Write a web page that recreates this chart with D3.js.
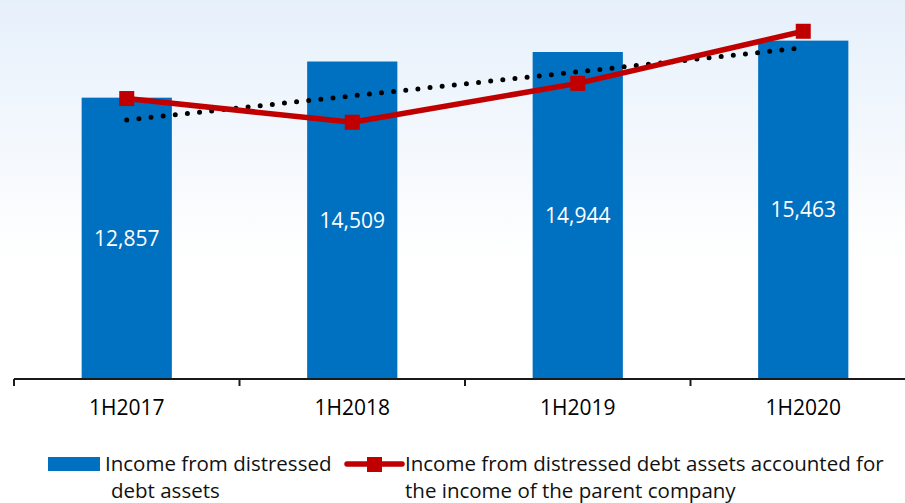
<!DOCTYPE html>
<html>
<head>
<meta charset="utf-8">
<script src="https://cdn.jsdelivr.net/npm/d3@7"></script>
<style>
  html, body { margin: 0; padding: 0; background: #ffffff; }
  svg { display: block; font-family: "Open Sans", "Noto Sans", sans-serif; }
</style>
</head>
<body>
<svg id="chart" width="905" height="503"></svg>
<script>
// Half-year periods
const periods = ["1H2017", "1H2018", "1H2019", "1H2020"];
// Income from distressed debt assets (bars)
const incomeValues = [12857, 14509, 14944, 15463];
// Share of parent-company income accounted for by that income, % (line)
const shareValues = [69.6, 67.1, 71.2, 76.7];
// Legend entries
const legendBar = ["Income from distressed", "debt assets"];
const legendLine = ["Income from distressed debt assets accounted for", "the income of the parent company"];

const svg = d3.select("#chart");
const W = 905, H = 503;
const baseY = 379;

// Soft blue wash behind the plot
const defs = svg.append("defs");
const grad = defs.append("linearGradient")
  .attr("id", "bg").attr("x1", 0).attr("y1", 0).attr("x2", 0).attr("y2", 1);
grad.append("stop").attr("offset", "0%").attr("stop-color", "#e6f0fb");
grad.append("stop").attr("offset", "100%").attr("stop-color", "#ffffff");
svg.append("rect").attr("x", 0).attr("y", 0).attr("width", W).attr("height", 260)
  .attr("fill", "url(#bg)");

const x = d3.scaleBand().domain(periods).range([14, 916])
  .paddingInner(0.6).paddingOuter(0.3);
const y = d3.scaleLinear().domain([0, 17320]).range([baseY, 0]);
const y2 = d3.scaleLinear().domain([40, 80]).range([baseY, 0]);

// Bars
svg.append("g").selectAll("rect").data(periods).join("rect")
  .attr("x", d => x(d))
  .attr("y", (d, i) => y(incomeValues[i]))
  .attr("width", x.bandwidth())
  .attr("height", (d, i) => baseY - y(incomeValues[i]))
  .attr("fill", "#0070c0");

// Value labels inside bars
svg.append("g").selectAll("text").data(periods).join("text")
  .attr("x", d => x(d) + x.bandwidth() / 2)
  .attr("y", (d, i) => (y(incomeValues[i]) + baseY) / 2)
  .attr("dy", "0.36em")
  .attr("text-anchor", "middle")
  .attr("fill", "#ffffff")
  .attr("font-size", 21)
  .text((d, i) => d3.format(",")(incomeValues[i]));

// Linear trend of the share series
const idx = shareValues.map((v, i) => i);
const mx = d3.mean(idx), my = d3.mean(shareValues);
const slope = d3.sum(idx, i => (i - mx) * (shareValues[i] - my)) / d3.sum(idx, i => (i - mx) ** 2);
const icpt = my - slope * mx;
const cx = d => x(d) + x.bandwidth() / 2;
const trend = periods.map((d, i) => [cx(d), y2(icpt + slope * i)]);
svg.append("path")
  .attr("d", d3.line()([trend[0], trend[trend.length - 1]]))
  .attr("fill", "none")
  .attr("stroke", "#000000")
  .attr("stroke-width", 5)
  .attr("stroke-linecap", "round")
  .attr("stroke-dasharray", "0 12.2");

// Share line with square markers
const linePts = periods.map((d, i) => [cx(d), y2(shareValues[i])]);
svg.append("path")
  .attr("d", d3.line()(linePts))
  .attr("fill", "none")
  .attr("stroke", "#c00000")
  .attr("stroke-width", 5.5)
  .attr("stroke-linejoin", "round");
svg.append("g").selectAll("rect").data(linePts).join("rect")
  .attr("x", p => p[0] - 7.5).attr("y", p => p[1] - 7.5)
  .attr("width", 15).attr("height", 15)
  .attr("fill", "#c00000");

// Category axis
const axis = svg.append("g").attr("transform", `translate(0,${baseY})`)
  .call(d3.axisBottom(x).tickSize(0).tickPadding(21));
axis.select(".domain").remove();
axis.selectAll("text").attr("font-size", 21).attr("fill", "#000000")
  .attr("font-family", "\"Open Sans\", sans-serif");
axis.append("line").attr("x1", 14).attr("x2", W).attr("y1", 0).attr("y2", 0)
  .attr("stroke", "#1a1a1a").attr("stroke-width", 2);
const gap = (x.step() - x.bandwidth()) / 2;
const bounds = periods.map(d => x(d) - gap).concat([x(periods[periods.length - 1]) + x.bandwidth() + gap]);
axis.selectAll("line.bound").data(bounds).join("line")
  .attr("class", "bound")
  .attr("x1", b => b).attr("x2", b => b)
  .attr("y1", 0).attr("y2", 7)
  .attr("stroke", "#1a1a1a").attr("stroke-width", 2);

// Legend
const lg = svg.append("g").attr("font-size", 20.5).attr("fill", "#111111");
lg.append("rect").attr("x", 48).attr("y", 457).attr("width", 52).attr("height", 14)
  .attr("fill", "#0070c0");
lg.append("text").attr("x", 105).attr("y", 471).text(legendBar[0]);
lg.append("text").attr("x", 111).attr("y", 498).text(legendBar[1]);
lg.append("line").attr("x1", 347).attr("x2", 402).attr("y1", 464).attr("y2", 464)
  .attr("stroke", "#c00000").attr("stroke-width", 5.5).attr("stroke-linecap", "round");
lg.append("rect").attr("x", 367).attr("y", 457).attr("width", 15).attr("height", 15)
  .attr("fill", "#c00000");
lg.append("text").attr("x", 405).attr("y", 471).text(legendLine[0]);
lg.append("text").attr("x", 405).attr("y", 498).text(legendLine[1]);
</script>
</body>
</html>
